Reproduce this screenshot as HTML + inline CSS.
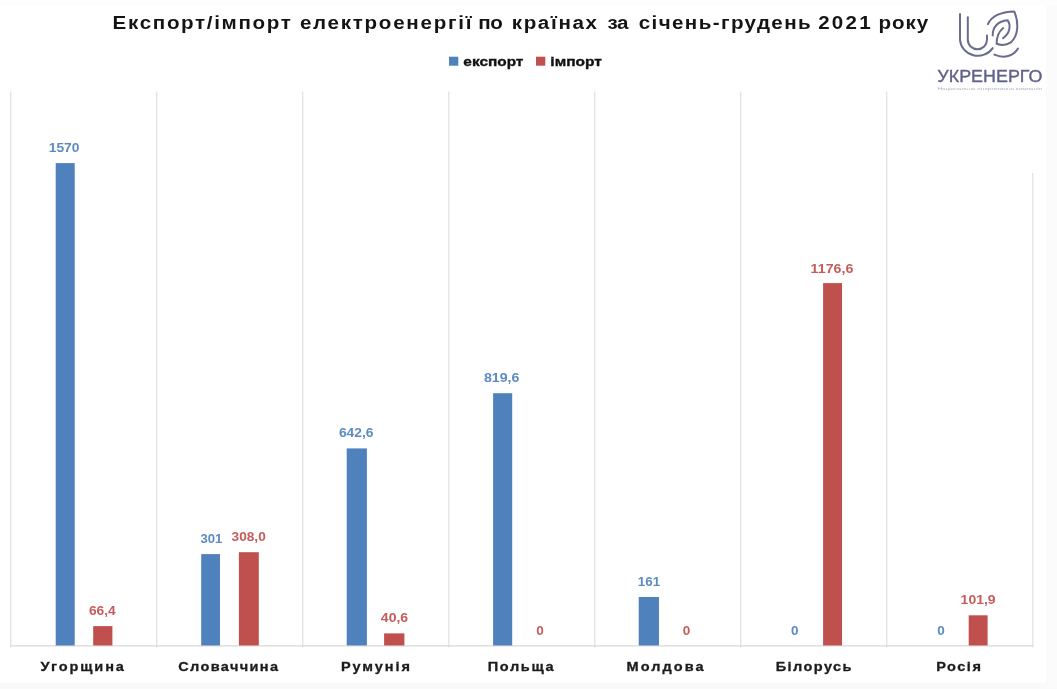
<!DOCTYPE html>
<html lang="uk"><head><meta charset="utf-8"><title>Експорт/імпорт електроенергії</title>
<style>html,body{margin:0;padding:0;background:#fff}svg{display:block}text{font-family:"Liberation Sans",sans-serif}</style></head><body>
<svg width="1057" height="689" viewBox="0 0 1057 689">
<rect width="1057" height="689" fill="#fff"/>
<rect x="1046" y="0" width="11" height="689" fill="#fbfbfb"/>
<rect x="0" y="682.8" width="1057" height="6.2" fill="#fafafb"/>
<rect x="0" y="0" width="1057" height="5.5" fill="#fdfdfd"/>
<line x1="10.8" y1="91.5" x2="10.8" y2="647.5" stroke="#d9d9d9" stroke-width="1"/>
<line x1="156.8" y1="91.5" x2="156.8" y2="647.5" stroke="#d9d9d9" stroke-width="1"/>
<line x1="302.8" y1="91.5" x2="302.8" y2="647.5" stroke="#d9d9d9" stroke-width="1"/>
<line x1="448.8" y1="91.5" x2="448.8" y2="647.5" stroke="#d9d9d9" stroke-width="1"/>
<line x1="594.8" y1="91.5" x2="594.8" y2="647.5" stroke="#d9d9d9" stroke-width="1"/>
<line x1="740.8" y1="91.5" x2="740.8" y2="647.5" stroke="#d9d9d9" stroke-width="1"/>
<line x1="886.8" y1="91.5" x2="886.8" y2="647.5" stroke="#d9d9d9" stroke-width="1"/>
<line x1="1032.8" y1="173" x2="1032.8" y2="647.5" stroke="#d9d9d9" stroke-width="1"/>
<line x1="10.8" y1="645.8" x2="1033.3" y2="645.8" stroke="#d9d9d9" stroke-width="1.2"/>
<rect x="55.7" y="163.1" width="19.0" height="482.4" fill="#4f81bd"/>
<rect x="93.2" y="626.1" width="19.2" height="19.4" fill="#c0504d"/>
<rect x="201.2" y="554.1" width="18.8" height="91.4" fill="#4f81bd"/>
<rect x="238.9" y="552.2" width="19.9" height="93.3" fill="#c0504d"/>
<rect x="346.7" y="448.4" width="20.2" height="197.1" fill="#4f81bd"/>
<rect x="384.1" y="633.4" width="20.3" height="12.1" fill="#c0504d"/>
<rect x="493.1" y="393.2" width="19.1" height="252.3" fill="#4f81bd"/>
<rect x="638.7" y="597.0" width="20.3" height="48.5" fill="#4f81bd"/>
<rect x="823.1" y="283.1" width="18.9" height="362.4" fill="#c0504d"/>
<rect x="968.7" y="615.3" width="18.9" height="30.2" fill="#c0504d"/>
<text transform="translate(48.73,151.9) scale(1.023,1)" font-size="13.5" font-weight="bold" fill="#4f81bd" opacity="0.92">1570</text>
<text transform="translate(88.89,614.8) scale(1.021,1)" font-size="13.5" font-weight="bold" fill="#c0504d" opacity="0.92">66,4</text>
<text transform="translate(40.50,671.1) scale(1.100,1)" font-size="13.2" font-weight="bold" fill="#1c1c1c" letter-spacing="1.74" stroke="#1c1c1c" stroke-width="0.3">Угорщина</text>
<text transform="translate(200.46,542.8) scale(0.973,1)" font-size="13.5" font-weight="bold" fill="#4f81bd" opacity="0.92">301</text>
<text transform="translate(231.55,540.7) scale(1.012,1)" font-size="13.5" font-weight="bold" fill="#c0504d" opacity="0.92">308,0</text>
<text transform="translate(178.25,671.1) scale(1.100,1)" font-size="13.2" font-weight="bold" fill="#1c1c1c" letter-spacing="1.25" stroke="#1c1c1c" stroke-width="0.3">Словаччина</text>
<text transform="translate(338.89,437.3) scale(1.026,1)" font-size="13.5" font-weight="bold" fill="#4f81bd" opacity="0.92">642,6</text>
<text transform="translate(380.84,622.4) scale(1.039,1)" font-size="13.5" font-weight="bold" fill="#c0504d" opacity="0.92">40,6</text>
<text transform="translate(340.88,671.1) scale(1.100,1)" font-size="13.2" font-weight="bold" fill="#1c1c1c" letter-spacing="1.78" stroke="#1c1c1c" stroke-width="0.3">Румунія</text>
<text transform="translate(483.97,382.4) scale(1.050,1)" font-size="13.5" font-weight="bold" fill="#4f81bd" opacity="0.92">819,6</text>
<text transform="translate(536.20,635.4) scale(1.000,1)" font-size="13.5" font-weight="bold" fill="#c0504d" opacity="0.92">0</text>
<text transform="translate(487.68,671.1) scale(1.100,1)" font-size="13.2" font-weight="bold" fill="#1c1c1c" letter-spacing="1.52" stroke="#1c1c1c" stroke-width="0.3">Польща</text>
<text transform="translate(637.85,586.1) scale(0.995,1)" font-size="13.5" font-weight="bold" fill="#4f81bd" opacity="0.92">161</text>
<text transform="translate(682.80,635.4) scale(1.000,1)" font-size="13.5" font-weight="bold" fill="#c0504d" opacity="0.92">0</text>
<text transform="translate(626.57,671.1) scale(1.100,1)" font-size="13.2" font-weight="bold" fill="#1c1c1c" letter-spacing="1.87" stroke="#1c1c1c" stroke-width="0.3">Молдова</text>
<text transform="translate(790.90,635.4) scale(1.000,1)" font-size="13.5" font-weight="bold" fill="#4f81bd" opacity="0.92">0</text>
<text transform="translate(810.61,272.8) scale(1.055,1)" font-size="13.5" font-weight="bold" fill="#c0504d" opacity="0.92">1176,6</text>
<text transform="translate(775.67,671.1) scale(1.100,1)" font-size="13.2" font-weight="bold" fill="#1c1c1c" letter-spacing="1.32" stroke="#1c1c1c" stroke-width="0.3">Білорусь</text>
<text transform="translate(937.30,635.4) scale(1.000,1)" font-size="13.5" font-weight="bold" fill="#4f81bd" opacity="0.92">0</text>
<text transform="translate(960.62,604.4) scale(1.034,1)" font-size="13.5" font-weight="bold" fill="#c0504d" opacity="0.92">101,9</text>
<text transform="translate(936.17,671.1) scale(1.100,1)" font-size="13.2" font-weight="bold" fill="#1c1c1c" letter-spacing="1.40" stroke="#1c1c1c" stroke-width="0.3">Росія</text>
<text transform="translate(112.62,29.3) scale(1.100,1)" font-size="18.7" font-weight="bold" fill="#141414" letter-spacing="1.52">Експорт/імпорт</text>
<text transform="translate(299.88,29.3) scale(1.100,1)" font-size="18.7" font-weight="bold" fill="#141414" letter-spacing="1.58">електроенергії</text>
<text transform="translate(478.22,29.3) scale(1.100,1)" font-size="18.7" font-weight="bold" fill="#141414" letter-spacing="-0.39">по</text>
<text transform="translate(511.73,29.3) scale(1.100,1)" font-size="18.7" font-weight="bold" fill="#141414" letter-spacing="1.50">країнах</text>
<text transform="translate(607.55,29.3) scale(1.100,1)" font-size="18.7" font-weight="bold" fill="#141414" letter-spacing="-0.45">за</text>
<text transform="translate(638.67,29.3) scale(1.100,1)" font-size="18.7" font-weight="bold" fill="#141414" letter-spacing="1.28">січень-грудень</text>
<text transform="translate(818.15,29.3) scale(1.100,1)" font-size="18.7" font-weight="bold" fill="#141414" letter-spacing="2.08">2021</text>
<text transform="translate(878.62,29.3) scale(1.100,1)" font-size="18.7" font-weight="bold" fill="#141414" letter-spacing="0.80">року</text>
<text transform="translate(463.34,65.5) scale(1.124,1)" font-size="13.7" font-weight="bold" fill="#111" stroke="#111" stroke-width="0.35">експорт</text>
<text transform="translate(550.37,65.5) scale(1.134,1)" font-size="13.7" font-weight="bold" fill="#111" stroke="#111" stroke-width="0.35">імпорт</text>
<text transform="translate(937.37,82.1) scale(1.066,1)" font-size="16.8" font-weight="normal" fill="#5f6189" stroke="#5f6189" stroke-width="0.35">УКРЕНЕРГО</text>
<text transform="translate(937.43,89.5) scale(1.885,1)" font-size="3.4" font-weight="normal" fill="#aeb0c2">Національна енергетична компанія</text>
<rect x="449" y="56.7" width="9.3" height="9" fill="#4f81bd"/>
<rect x="536" y="56.7" width="9.3" height="9" fill="#c0504d"/>
<g fill="none" stroke="#6a6c8e" stroke-width="2" stroke-linecap="round" stroke-linejoin="round">
<path d="M960 14.1 V39.8 A17.9 17.4 0 0 0 992.7 48.1"/>
<path d="M967.8 17.2 V39.8 A9.6 9.4 0 0 0 987 39.8 V35.5"/>
<path d="M987.9 24.2 C992 15 1003 11.8 1014.4 11.5 C1018.5 22 1019 35 1010.9 42.4 C1006 45.5 1000 45 996.6 43.7 C996.6 38 998.5 32 1003.1 28.1"/>
<path d="M992.7 35.5 C992.5 27 998 21 1007.5 20.2 C1011.5 25.5 1009.5 34 1003.1 38.1"/>
<path d="M994.4 54.6 C1004 59 1013.5 56 1017.9 48.5"/>
</g>
</svg></body></html>
